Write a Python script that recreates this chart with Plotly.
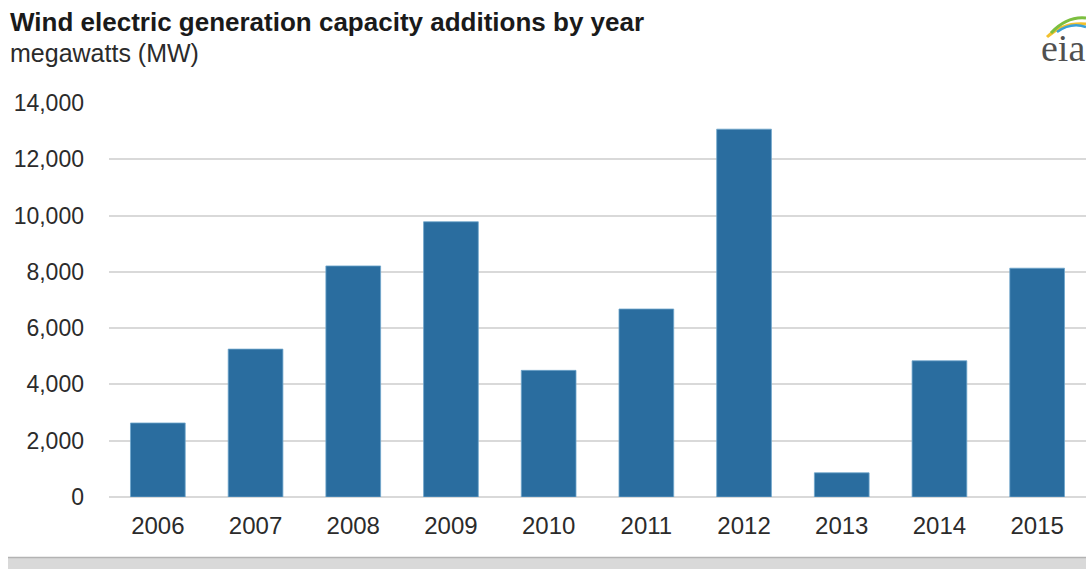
import plotly.graph_objects as go

# Annual wind capacity additions (MW)
years = ["2006", "2007", "2008", "2009", "2010", "2011", "2012", "2013", "2014", "2015"]
additions_mw = [2630, 5255, 8210, 9780, 4500, 6680, 13070, 860, 4840, 8130]

y_ticks = [0, 2000, 4000, 6000, 8000, 10000, 12000, 14000]
y_tick_text = ["0", "2,000", "4,000", "6,000", "8,000", "10,000", "12,000", "14,000"]

W, H = 1086, 569
L, R, T, B = 109, 0, 103, 72
PW, PH = W - L - R, H - T - B


def px(x):
    return (x - L) / PW


def py(y):
    return (H - B - y) / PH


BAR = "#2a6d9f"
FONT = "Arial, Liberation Sans, sans-serif"
TXT = "#2b2b2b"

fig = go.Figure(
    go.Bar(
        x=years,
        y=additions_mw,
        marker=dict(color=BAR, line=dict(color="#6fa6cc", width=0.8)),
        hoverinfo="x+y",
    )
)

shapes = [
    # footer band
    dict(type="rect", xref="paper", yref="paper", x0=px(8), x1=px(1086), y0=py(557), y1=py(569),
         fillcolor="#d9d9d9", line=dict(width=0), layer="below"),
    dict(type="line", xref="paper", yref="paper", x0=px(8), x1=px(1086), y0=py(557.5), y1=py(557.5),
         line=dict(color="#b3b3b3", width=1.5)),
    # logo swooshes
    dict(type="path", xref="paper", yref="paper",
         path=f"M {px(1047)},{py(37)} Q {px(1063)},{py(22)} {px(1086)},{py(24)}",
         line=dict(color="#f2c12e", width=3)),
    dict(type="path", xref="paper", yref="paper",
         path=f"M {px(1051)},{py(33)} Q {px(1067)},{py(16)} {px(1086)},{py(18)}",
         line=dict(color="#7cbf3f", width=3)),
    dict(type="path", xref="paper", yref="paper",
         path=f"M {px(1057)},{py(32)} Q {px(1071)},{py(22)} {px(1086)},{py(27)}",
         line=dict(color="#3aa0d8", width=2.5)),
]

annotations = [
    dict(text="<b>Wind electric generation capacity additions by year</b>", xref="paper", yref="paper",
         x=px(8), y=py(22), xanchor="left", yanchor="middle", showarrow=False,
         font=dict(family=FONT, size=26, color="#1a1a1a")),
    dict(text="megawatts (MW)", xref="paper", yref="paper",
         x=px(8), y=py(53), xanchor="left", yanchor="middle", showarrow=False,
         font=dict(family=FONT, size=25, color=TXT)),
    dict(text="eia", xref="paper", yref="paper",
         x=px(1039), y=py(48), xanchor="left", yanchor="middle", showarrow=False,
         font=dict(family="Liberation Serif, serif", size=38, color="#505050")),
]

fig.update_layout(
    width=W,
    height=H,
    margin=dict(l=L, r=R, t=T, b=B, pad=0),
    paper_bgcolor="white",
    plot_bgcolor="white",
    bargap=0.44,
    showlegend=False,
    shapes=shapes,
    annotations=annotations,
    font=dict(family=FONT, size=24, color=TXT),
)

fig.update_xaxes(
    showgrid=False,
    showline=False,
    ticks="",
    tickfont=dict(family=FONT, size=24, color=TXT),
    ticklabelstandoff=12,
    fixedrange=True,
)

fig.update_yaxes(
    range=[0, 14000],
    tickvals=y_ticks,
    ticktext=y_tick_text,
    showgrid=True,
    gridcolor="#d9d9d9",
    gridwidth=1.5,
    zeroline=True,
    zerolinecolor="#d9d9d9",
    zerolinewidth=1.5,
    showline=False,
    ticks="",
    tickfont=dict(family=FONT, size=23, color=TXT),
    ticklabelstandoff=24,
    fixedrange=True,
)

fig.write_html("out.html", config={"displayModeBar": False})
